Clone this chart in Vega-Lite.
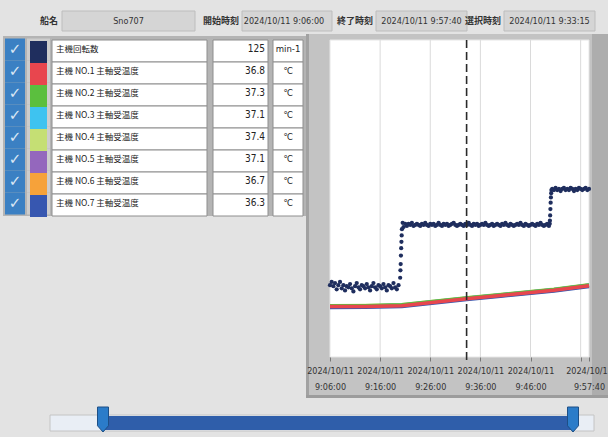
{
  "$schema": "https://vega.github.io/schema/vega-lite/v6.json",
  "width": 608,
  "height": 437,
  "autosize": "none",
  "padding": 0,
  "background": "#e3e3e3",
  "config": {"view": {"stroke": null}, "text": {"font": "Noto Sans CJK JP"}},
  "data": {"values": [{}]},
  "datasets": {
    "series": [
      {"name": "主機回転数", "value": "125", "unit": "min-1"},
      {"name": "主機 NO.1 主軸受温度", "value": "36.8", "unit": "℃"},
      {"name": "主機 NO.2 主軸受温度", "value": "37.3", "unit": "℃"},
      {"name": "主機 NO.3 主軸受温度", "value": "37.1", "unit": "℃"},
      {"name": "主機 NO.4 主軸受温度", "value": "37.4", "unit": "℃"},
      {"name": "主機 NO.5 主軸受温度", "value": "37.1", "unit": "℃"},
      {"name": "主機 NO.6 主軸受温度", "value": "36.7", "unit": "℃"},
      {"name": "主機 NO.7 主軸受温度", "value": "36.3", "unit": "℃"}
    ],
    "ticks": [
      {"t": "2024-10-11T09:16:00"},
      {"t": "2024-10-11T09:26:00"},
      {"t": "2024-10-11T09:36:00"},
      {"t": "2024-10-11T09:46:00"},
      {"t": "2024-10-11T09:56:00"}
    ],
    "temps": [
      {"t": "2024-10-11T09:06:00", "s": "主機 NO.4 主軸受温度", "v": 32.4},
      {"t": "2024-10-11T09:13:00", "s": "主機 NO.4 主軸受温度", "v": 32.5},
      {"t": "2024-10-11T09:20:20", "s": "主機 NO.4 主軸受温度", "v": 33.0},
      {"t": "2024-10-11T09:33:15", "s": "主機 NO.4 主軸受温度", "v": 37.4},
      {"t": "2024-10-11T09:40:00", "s": "主機 NO.4 主軸受温度", "v": 39.4},
      {"t": "2024-10-11T09:50:40", "s": "主機 NO.4 主軸受温度", "v": 42.7},
      {"t": "2024-10-11T09:57:40", "s": "主機 NO.4 主軸受温度", "v": 45.6},
      {"t": "2024-10-11T09:06:00", "s": "主機 NO.3 主軸受温度", "v": 32.1},
      {"t": "2024-10-11T09:13:00", "s": "主機 NO.3 主軸受温度", "v": 32.2},
      {"t": "2024-10-11T09:20:20", "s": "主機 NO.3 主軸受温度", "v": 32.7},
      {"t": "2024-10-11T09:33:15", "s": "主機 NO.3 主軸受温度", "v": 37.1},
      {"t": "2024-10-11T09:40:00", "s": "主機 NO.3 主軸受温度", "v": 39.1},
      {"t": "2024-10-11T09:50:40", "s": "主機 NO.3 主軸受温度", "v": 42.4},
      {"t": "2024-10-11T09:57:40", "s": "主機 NO.3 主軸受温度", "v": 45.3},
      {"t": "2024-10-11T09:06:00", "s": "主機 NO.6 主軸受温度", "v": 31.7},
      {"t": "2024-10-11T09:13:00", "s": "主機 NO.6 主軸受温度", "v": 31.8},
      {"t": "2024-10-11T09:20:20", "s": "主機 NO.6 主軸受温度", "v": 32.3},
      {"t": "2024-10-11T09:33:15", "s": "主機 NO.6 主軸受温度", "v": 36.7},
      {"t": "2024-10-11T09:40:00", "s": "主機 NO.6 主軸受温度", "v": 38.7},
      {"t": "2024-10-11T09:50:40", "s": "主機 NO.6 主軸受温度", "v": 42.0},
      {"t": "2024-10-11T09:57:40", "s": "主機 NO.6 主軸受温度", "v": 44.9},
      {"t": "2024-10-11T09:06:00", "s": "主機 NO.7 主軸受温度", "v": 31.3},
      {"t": "2024-10-11T09:13:00", "s": "主機 NO.7 主軸受温度", "v": 31.4},
      {"t": "2024-10-11T09:20:20", "s": "主機 NO.7 主軸受温度", "v": 31.9},
      {"t": "2024-10-11T09:33:15", "s": "主機 NO.7 主軸受温度", "v": 36.3},
      {"t": "2024-10-11T09:40:00", "s": "主機 NO.7 主軸受温度", "v": 38.3},
      {"t": "2024-10-11T09:50:40", "s": "主機 NO.7 主軸受温度", "v": 41.6},
      {"t": "2024-10-11T09:57:40", "s": "主機 NO.7 主軸受温度", "v": 44.5},
      {"t": "2024-10-11T09:06:00", "s": "主機 NO.5 主軸受温度", "v": 32.1},
      {"t": "2024-10-11T09:13:00", "s": "主機 NO.5 主軸受温度", "v": 32.2},
      {"t": "2024-10-11T09:20:20", "s": "主機 NO.5 主軸受温度", "v": 32.7},
      {"t": "2024-10-11T09:33:15", "s": "主機 NO.5 主軸受温度", "v": 37.1},
      {"t": "2024-10-11T09:40:00", "s": "主機 NO.5 主軸受温度", "v": 39.1},
      {"t": "2024-10-11T09:50:40", "s": "主機 NO.5 主軸受温度", "v": 42.4},
      {"t": "2024-10-11T09:57:40", "s": "主機 NO.5 主軸受温度", "v": 45.3},
      {"t": "2024-10-11T09:06:00", "s": "主機 NO.2 主軸受温度", "v": 32.3},
      {"t": "2024-10-11T09:13:00", "s": "主機 NO.2 主軸受温度", "v": 32.4},
      {"t": "2024-10-11T09:20:20", "s": "主機 NO.2 主軸受温度", "v": 32.9},
      {"t": "2024-10-11T09:33:15", "s": "主機 NO.2 主軸受温度", "v": 37.3},
      {"t": "2024-10-11T09:40:00", "s": "主機 NO.2 主軸受温度", "v": 39.3},
      {"t": "2024-10-11T09:50:40", "s": "主機 NO.2 主軸受温度", "v": 42.6},
      {"t": "2024-10-11T09:57:40", "s": "主機 NO.2 主軸受温度", "v": 45.5},
      {"t": "2024-10-11T09:06:00", "s": "主機 NO.1 主軸受温度", "v": 31.8},
      {"t": "2024-10-11T09:13:00", "s": "主機 NO.1 主軸受温度", "v": 31.9},
      {"t": "2024-10-11T09:20:20", "s": "主機 NO.1 主軸受温度", "v": 32.4},
      {"t": "2024-10-11T09:33:15", "s": "主機 NO.1 主軸受温度", "v": 36.8},
      {"t": "2024-10-11T09:40:00", "s": "主機 NO.1 主軸受温度", "v": 38.8},
      {"t": "2024-10-11T09:50:40", "s": "主機 NO.1 主軸受温度", "v": 42.1},
      {"t": "2024-10-11T09:57:40", "s": "主機 NO.1 主軸受温度", "v": 45.0}
    ],
    "rpm": [
      {"t": "2024-10-11T09:06:00", "v": 68}, {"t": "2024-10-11T09:06:20", "v": 71}, {"t": "2024-10-11T09:06:40", "v": 67},
      {"t": "2024-10-11T09:07:00", "v": 70}, {"t": "2024-10-11T09:07:20", "v": 64}, {"t": "2024-10-11T09:07:40", "v": 68},
      {"t": "2024-10-11T09:08:00", "v": 71}, {"t": "2024-10-11T09:08:20", "v": 65}, {"t": "2024-10-11T09:08:40", "v": 68},
      {"t": "2024-10-11T09:09:00", "v": 63}, {"t": "2024-10-11T09:09:20", "v": 67}, {"t": "2024-10-11T09:09:40", "v": 66},
      {"t": "2024-10-11T09:10:00", "v": 69}, {"t": "2024-10-11T09:10:20", "v": 65}, {"t": "2024-10-11T09:10:40", "v": 62},
      {"t": "2024-10-11T09:11:00", "v": 67}, {"t": "2024-10-11T09:11:20", "v": 70}, {"t": "2024-10-11T09:11:40", "v": 66},
      {"t": "2024-10-11T09:12:00", "v": 64}, {"t": "2024-10-11T09:12:20", "v": 68}, {"t": "2024-10-11T09:12:40", "v": 67},
      {"t": "2024-10-11T09:13:00", "v": 65}, {"t": "2024-10-11T09:13:20", "v": 69}, {"t": "2024-10-11T09:13:40", "v": 66},
      {"t": "2024-10-11T09:14:00", "v": 63}, {"t": "2024-10-11T09:14:20", "v": 67}, {"t": "2024-10-11T09:14:40", "v": 70},
      {"t": "2024-10-11T09:15:00", "v": 66}, {"t": "2024-10-11T09:15:20", "v": 64}, {"t": "2024-10-11T09:15:40", "v": 68},
      {"t": "2024-10-11T09:16:00", "v": 67}, {"t": "2024-10-11T09:16:20", "v": 65}, {"t": "2024-10-11T09:16:40", "v": 69},
      {"t": "2024-10-11T09:17:00", "v": 66}, {"t": "2024-10-11T09:17:20", "v": 63}, {"t": "2024-10-11T09:17:40", "v": 68},
      {"t": "2024-10-11T09:18:00", "v": 67}, {"t": "2024-10-11T09:18:20", "v": 65}, {"t": "2024-10-11T09:18:40", "v": 70},
      {"t": "2024-10-11T09:19:00", "v": 66}, {"t": "2024-10-11T09:19:20", "v": 64}, {"t": "2024-10-11T09:19:40", "v": 68},
      {"t": "2024-10-11T09:20:00", "v": 75}, {"t": "2024-10-11T09:20:03", "v": 82}, {"t": "2024-10-11T09:20:06", "v": 88},
      {"t": "2024-10-11T09:20:09", "v": 96}, {"t": "2024-10-11T09:20:12", "v": 103}, {"t": "2024-10-11T09:20:15", "v": 109},
      {"t": "2024-10-11T09:20:18", "v": 115}, {"t": "2024-10-11T09:20:21", "v": 121},
      {"t": "2024-10-11T09:20:30", "v": 127}, {"t": "2024-10-11T09:20:40", "v": 123},
      {"t": "2024-10-11T09:21:00", "v": 126}, {"t": "2024-10-11T09:21:20", "v": 124}, {"t": "2024-10-11T09:21:40", "v": 126},
      {"t": "2024-10-11T09:22:00", "v": 125}, {"t": "2024-10-11T09:22:20", "v": 127}, {"t": "2024-10-11T09:22:40", "v": 124},
      {"t": "2024-10-11T09:23:00", "v": 125}, {"t": "2024-10-11T09:23:20", "v": 126}, {"t": "2024-10-11T09:23:40", "v": 125},
      {"t": "2024-10-11T09:24:00", "v": 124}, {"t": "2024-10-11T09:24:20", "v": 126}, {"t": "2024-10-11T09:24:40", "v": 125},
      {"t": "2024-10-11T09:25:00", "v": 127}, {"t": "2024-10-11T09:25:20", "v": 125}, {"t": "2024-10-11T09:25:40", "v": 124},
      {"t": "2024-10-11T09:26:00", "v": 126}, {"t": "2024-10-11T09:26:20", "v": 125}, {"t": "2024-10-11T09:26:40", "v": 126},
      {"t": "2024-10-11T09:27:00", "v": 124}, {"t": "2024-10-11T09:27:20", "v": 125}, {"t": "2024-10-11T09:27:40", "v": 127},
      {"t": "2024-10-11T09:28:00", "v": 125}, {"t": "2024-10-11T09:28:20", "v": 124}, {"t": "2024-10-11T09:28:40", "v": 126},
      {"t": "2024-10-11T09:29:00", "v": 125}, {"t": "2024-10-11T09:29:20", "v": 126}, {"t": "2024-10-11T09:29:40", "v": 124},
      {"t": "2024-10-11T09:30:00", "v": 125}, {"t": "2024-10-11T09:30:20", "v": 126}, {"t": "2024-10-11T09:30:40", "v": 127},
      {"t": "2024-10-11T09:31:00", "v": 125}, {"t": "2024-10-11T09:31:20", "v": 124}, {"t": "2024-10-11T09:31:40", "v": 125},
      {"t": "2024-10-11T09:32:00", "v": 126}, {"t": "2024-10-11T09:32:20", "v": 125}, {"t": "2024-10-11T09:32:40", "v": 124},
      {"t": "2024-10-11T09:33:00", "v": 126}, {"t": "2024-10-11T09:33:15", "v": 125}, {"t": "2024-10-11T09:33:20", "v": 125},
      {"t": "2024-10-11T09:33:40", "v": 127}, {"t": "2024-10-11T09:34:00", "v": 125}, {"t": "2024-10-11T09:34:20", "v": 124},
      {"t": "2024-10-11T09:34:40", "v": 126}, {"t": "2024-10-11T09:35:00", "v": 125}, {"t": "2024-10-11T09:35:20", "v": 126},
      {"t": "2024-10-11T09:35:40", "v": 124}, {"t": "2024-10-11T09:36:00", "v": 125}, {"t": "2024-10-11T09:36:20", "v": 126},
      {"t": "2024-10-11T09:36:40", "v": 125}, {"t": "2024-10-11T09:37:00", "v": 127}, {"t": "2024-10-11T09:37:20", "v": 125},
      {"t": "2024-10-11T09:37:40", "v": 124}, {"t": "2024-10-11T09:38:00", "v": 125}, {"t": "2024-10-11T09:38:20", "v": 126},
      {"t": "2024-10-11T09:38:40", "v": 124}, {"t": "2024-10-11T09:39:00", "v": 125}, {"t": "2024-10-11T09:39:20", "v": 126},
      {"t": "2024-10-11T09:39:40", "v": 125}, {"t": "2024-10-11T09:40:00", "v": 124}, {"t": "2024-10-11T09:40:20", "v": 126},
      {"t": "2024-10-11T09:40:40", "v": 125}, {"t": "2024-10-11T09:41:00", "v": 127}, {"t": "2024-10-11T09:41:20", "v": 125},
      {"t": "2024-10-11T09:41:40", "v": 124}, {"t": "2024-10-11T09:42:00", "v": 126}, {"t": "2024-10-11T09:42:20", "v": 125},
      {"t": "2024-10-11T09:42:40", "v": 124}, {"t": "2024-10-11T09:43:00", "v": 125}, {"t": "2024-10-11T09:43:20", "v": 126},
      {"t": "2024-10-11T09:43:40", "v": 125}, {"t": "2024-10-11T09:44:00", "v": 127}, {"t": "2024-10-11T09:44:20", "v": 125},
      {"t": "2024-10-11T09:44:40", "v": 124}, {"t": "2024-10-11T09:45:00", "v": 126}, {"t": "2024-10-11T09:45:20", "v": 125},
      {"t": "2024-10-11T09:45:40", "v": 124}, {"t": "2024-10-11T09:46:00", "v": 125}, {"t": "2024-10-11T09:46:20", "v": 126},
      {"t": "2024-10-11T09:46:40", "v": 125}, {"t": "2024-10-11T09:47:00", "v": 124}, {"t": "2024-10-11T09:47:20", "v": 126},
      {"t": "2024-10-11T09:47:40", "v": 125}, {"t": "2024-10-11T09:48:00", "v": 127}, {"t": "2024-10-11T09:48:20", "v": 125},
      {"t": "2024-10-11T09:48:40", "v": 124}, {"t": "2024-10-11T09:49:00", "v": 125}, {"t": "2024-10-11T09:49:20", "v": 126},
      {"t": "2024-10-11T09:49:40", "v": 124}, {"t": "2024-10-11T09:49:50", "v": 126},
      {"t": "2024-10-11T09:49:52", "v": 129}, {"t": "2024-10-11T09:49:55", "v": 134}, {"t": "2024-10-11T09:49:58", "v": 140},
      {"t": "2024-10-11T09:50:01", "v": 146}, {"t": "2024-10-11T09:50:04", "v": 151}, {"t": "2024-10-11T09:50:07", "v": 155},
      {"t": "2024-10-11T09:50:10", "v": 158}, {"t": "2024-10-11T09:50:20", "v": 159}, {"t": "2024-10-11T09:50:40", "v": 158},
      {"t": "2024-10-11T09:51:00", "v": 160}, {"t": "2024-10-11T09:51:20", "v": 158}, {"t": "2024-10-11T09:51:40", "v": 159},
      {"t": "2024-10-11T09:52:00", "v": 157}, {"t": "2024-10-11T09:52:20", "v": 159}, {"t": "2024-10-11T09:52:40", "v": 160},
      {"t": "2024-10-11T09:53:00", "v": 158}, {"t": "2024-10-11T09:53:20", "v": 159}, {"t": "2024-10-11T09:53:40", "v": 158},
      {"t": "2024-10-11T09:54:00", "v": 160}, {"t": "2024-10-11T09:54:20", "v": 159}, {"t": "2024-10-11T09:54:40", "v": 157},
      {"t": "2024-10-11T09:55:00", "v": 159}, {"t": "2024-10-11T09:55:20", "v": 158}, {"t": "2024-10-11T09:55:40", "v": 160},
      {"t": "2024-10-11T09:56:00", "v": 159}, {"t": "2024-10-11T09:56:20", "v": 158}, {"t": "2024-10-11T09:56:40", "v": 159},
      {"t": "2024-10-11T09:57:00", "v": 160}, {"t": "2024-10-11T09:57:20", "v": 158}, {"t": "2024-10-11T09:57:40", "v": 159}
    ]
  },
  "layer": [
    {
      "data": {"values": [{"label": "船名", "text": "Sno707"}]},
      "layer": [
        {"mark": {"type": "rect", "x": 62, "x2": 195, "y": 11, "y2": 31, "fill": "#d5d5d5", "stroke": "#bdbdbd"}, "encoding": {}},
        {"mark": {"type": "text", "x": 58, "y": 21, "align": "right", "baseline": "middle", "fontSize": 9, "fontWeight": "bold", "color": "#333333"}, "encoding": {"text": {"field": "label"}}},
        {"mark": {"type": "text", "x": 128.5, "y": 21, "align": "center", "baseline": "middle", "font": "Liberation Sans Narrow, DejaVu Sans Condensed, Liberation Sans", "fontSize": 9, "color": "#333333"}, "encoding": {"text": {"field": "text"}}}
      ]
    },
    {
      "data": {"values": [{"label": "開始時刻", "text": "2024/10/11 9:06:00"}]},
      "layer": [
        {"mark": {"type": "rect", "x": 242, "x2": 332, "y": 11, "y2": 31, "fill": "#d5d5d5", "stroke": "#bdbdbd"}, "encoding": {}},
        {"mark": {"type": "text", "x": 239, "y": 21, "align": "right", "baseline": "middle", "fontSize": 9, "fontWeight": "bold", "color": "#333333"}, "encoding": {"text": {"field": "label"}}},
        {"mark": {"type": "text", "x": 284, "y": 21, "align": "center", "baseline": "middle", "font": "Liberation Sans Narrow, DejaVu Sans Condensed, Liberation Sans", "fontSize": 9, "color": "#333333"}, "encoding": {"text": {"field": "text"}}}
      ]
    },
    {
      "data": {"values": [{"label": "終了時刻", "text": "2024/10/11 9:57:40"}]},
      "layer": [
        {"mark": {"type": "rect", "x": 376, "x2": 467, "y": 11, "y2": 31, "fill": "#d5d5d5", "stroke": "#bdbdbd"}, "encoding": {}},
        {"mark": {"type": "text", "x": 373, "y": 21, "align": "right", "baseline": "middle", "fontSize": 9, "fontWeight": "bold", "color": "#333333"}, "encoding": {"text": {"field": "label"}}},
        {"mark": {"type": "text", "x": 421.5, "y": 21, "align": "center", "baseline": "middle", "font": "Liberation Sans Narrow, DejaVu Sans Condensed, Liberation Sans", "fontSize": 9, "color": "#333333"}, "encoding": {"text": {"field": "text"}}}
      ]
    },
    {
      "data": {"values": [{"label": "選択時刻", "text": "2024/10/11 9:33:15"}]},
      "layer": [
        {"mark": {"type": "rect", "x": 504, "x2": 595, "y": 11, "y2": 31, "fill": "#d5d5d5", "stroke": "#bdbdbd"}, "encoding": {}},
        {"mark": {"type": "text", "x": 501, "y": 21, "align": "right", "baseline": "middle", "fontSize": 9, "fontWeight": "bold", "color": "#333333"}, "encoding": {"text": {"field": "label"}}},
        {"mark": {"type": "text", "x": 549.5, "y": 21, "align": "center", "baseline": "middle", "font": "Liberation Sans Narrow, DejaVu Sans Condensed, Liberation Sans", "fontSize": 9, "color": "#333333"}, "encoding": {"text": {"field": "text"}}}
      ]
    },
    {"mark": {"type": "rect", "x": 3, "x2": 306, "y": 36, "y2": 216, "fill": "#b4b4b4"}, "encoding": {}},
    {
      "data": {"name": "series"},
      "encoding": {
        "y": {"field": "name", "type": "nominal", "sort": null, "axis": null, "scale": {"range": [38, 214], "paddingInner": 0, "paddingOuter": 0}}
      },
      "layer": [
        {"mark": {"type": "rect", "x": 5, "x2": 25, "yOffset": 0.5, "y2Offset": -0.5, "fill": "#3b80c3"}},
        {"mark": {"type": "text", "x": 15, "text": "✓", "font": "DejaVu Sans", "fontSize": 15, "color": "#dce8f5", "align": "center", "baseline": "middle"}},
        {"mark": {"type": "rect", "x": 27, "x2": 50, "yOffset": 0.5, "y2Offset": -0.5, "fill": "#cdcdcd"}},
        {
          "mark": {"type": "rect", "x": 30, "x2": 47, "yOffset": 3, "y2Offset": -2},
          "encoding": {
            "color": {
              "field": "name", "type": "nominal", "legend": null,
              "scale": {
                "domain": ["主機回転数", "主機 NO.1 主軸受温度", "主機 NO.2 主軸受温度", "主機 NO.3 主軸受温度", "主機 NO.4 主軸受温度", "主機 NO.5 主軸受温度", "主機 NO.6 主軸受温度", "主機 NO.7 主軸受温度"],
                "range": ["#1f2e5e", "#e8464e", "#5bbf3e", "#3ec3f0", "#c5df74", "#9467bd", "#f6a23a", "#3757b0"]
              }
            }
          }
        },
        {"mark": {"type": "rect", "x": 52, "x2": 207, "yOffset": 2, "y2Offset": -2, "fill": "#ffffff", "stroke": "#8e8e8e"}},
        {"mark": {"type": "text", "x": 56, "align": "left", "baseline": "middle", "fontSize": 8.5, "color": "#222222"}, "encoding": {"text": {"field": "name"}}},
        {"mark": {"type": "rect", "x": 213, "x2": 268, "yOffset": 2, "y2Offset": -2, "fill": "#ffffff", "stroke": "#8e8e8e"}},
        {"mark": {"type": "text", "x": 265, "align": "right", "baseline": "middle", "font": "Liberation Sans Narrow, DejaVu Sans Condensed, Liberation Sans", "fontSize": 10, "color": "#222222"}, "encoding": {"text": {"field": "value"}}},
        {"mark": {"type": "rect", "x": 273, "x2": 303, "yOffset": 2, "y2Offset": -2, "fill": "#ffffff", "stroke": "#8e8e8e"}},
        {"mark": {"type": "text", "x": 288, "align": "center", "baseline": "middle", "font": "Liberation Sans Narrow, DejaVu Sans Condensed, Liberation Sans", "fontSize": 9.5, "color": "#222222"}, "encoding": {"text": {"field": "unit"}}}
      ]
    },
    {"mark": {"type": "rect", "x": 306, "x2": 608, "y": 34, "y2": 398, "fill": "#c3c3c3"}, "encoding": {}},
    {"mark": {"type": "rect", "x": 306, "x2": 309, "y": 34, "y2": 398, "fill": "#a2a2a2"}, "encoding": {}},
    {"mark": {"type": "rect", "x": 592, "x2": 608, "y": 34, "y2": 398, "fill": "#adadad"}, "encoding": {}},
    {"mark": {"type": "rect", "x": 306, "x2": 608, "y": 395, "y2": 398, "fill": "#9c9c9c"}, "encoding": {}},
    {"mark": {"type": "rect", "x": 330, "x2": 589, "y": 40, "y2": 357, "fill": "#ffffff", "stroke": "#e6e6e6"}, "encoding": {}},
    {
      "encoding": {
        "x": {
          "field": "t", "type": "temporal",
          "scale": {
            "domain": [
              {"year": 2024, "month": 10, "date": 11, "hours": 9, "minutes": 6, "seconds": 0},
              {"year": 2024, "month": 10, "date": 11, "hours": 9, "minutes": 57, "seconds": 40}
            ],
            "range": [330, 589], "nice": false
          },
          "axis": {
            "orient": "bottom", "offset": -80, "zindex": 1, "title": null, "grid": false, "domain": false,
            "values": [
              {"year": 2024, "month": 10, "date": 11, "hours": 9, "minutes": 6},
              {"year": 2024, "month": 10, "date": 11, "hours": 9, "minutes": 16},
              {"year": 2024, "month": 10, "date": 11, "hours": 9, "minutes": 26},
              {"year": 2024, "month": 10, "date": 11, "hours": 9, "minutes": 36},
              {"year": 2024, "month": 10, "date": 11, "hours": 9, "minutes": 46},
              {"year": 2024, "month": 10, "date": 11, "hours": 9, "minutes": 56},
              {"year": 2024, "month": 10, "date": 11, "hours": 9, "minutes": 57, "seconds": 40}
            ],
            "labelExpr": "minutes(datum.value) == 56 ? '' : [timeFormat(datum.value, '%Y/%m/%d'), timeFormat(datum.value, '%-H:%M:%S')]",
            "tickColor": "#777777", "tickSize": 4, "labelPadding": 5,
            "labelFont": "Liberation Sans Narrow, DejaVu Sans Condensed, Liberation Sans", "labelFontSize": 9, "labelColor": "#333333", "labelLineHeight": 16,
            "labelOverlap": false, "labelBound": false, "labelFlush": false
          }
        }
      },
      "layer": [
        {
          "data": {"name": "ticks"},
          "mark": {"type": "rule", "color": "#dadada", "strokeWidth": 1},
          "encoding": {"y": {"value": 40}, "y2": {"value": 357}}
        },
        {
          "data": {"name": "temps"},
          "transform": [{"filter": "datum.s != '主機 NO.1 主軸受温度'"}],
          "mark": {"type": "line", "strokeWidth": 3.5},
          "encoding": {
            "y": {"field": "v", "type": "quantitative", "axis": null, "scale": {"domain": [0, 200], "range": [357, 40], "nice": false, "zero": false}},
            "color": {
              "field": "s", "type": "nominal", "legend": null,
              "scale": {
                "domain": ["主機 NO.1 主軸受温度", "主機 NO.2 主軸受温度", "主機 NO.3 主軸受温度", "主機 NO.4 主軸受温度", "主機 NO.5 主軸受温度", "主機 NO.6 主軸受温度", "主機 NO.7 主軸受温度"],
                "range": ["#e8464e", "#5bbf3e", "#3ec3f0", "#c5df74", "#9467bd", "#f6a23a", "#3757b0"]
              }
            }
          }
        },
        {
          "data": {"name": "temps"},
          "transform": [{"filter": "datum.s == '主機 NO.1 主軸受温度'"}],
          "mark": {"type": "line", "strokeWidth": 3.5, "color": "#e8464e"},
          "encoding": {
            "y": {"field": "v", "type": "quantitative", "axis": null, "scale": {"domain": [0, 200], "range": [357, 40], "nice": false, "zero": false}}
          }
        },
        {
          "data": {"name": "rpm"},
          "mark": {"type": "circle", "size": 18, "opacity": 1, "color": "#1f2e5e"},
          "encoding": {
            "y": {"field": "v", "type": "quantitative", "axis": null, "scale": {"domain": [0, 300], "range": [357, 40], "nice": false}}
          }
        },
        {
          "data": {"values": [{"t": "2024-10-11T09:33:15"}]},
          "mark": {"type": "rule", "color": "#2a2a2a", "strokeWidth": 1.6, "strokeDash": [8, 4]},
          "encoding": {"y": {"value": 40}, "y2": {"value": 362}}
        }
      ],
      "resolve": {"scale": {"y": "independent", "color": "independent"}}
    },
    {"mark": {"type": "rect", "x": 50, "x2": 594, "y": 415, "y2": 431, "fill": "#e9eef5", "stroke": "#c4c4c4"}, "encoding": {}},
    {"mark": {"type": "rect", "x": 103, "x2": 573, "y": 416, "y2": 430, "fill": "#2f5eaa"}, "encoding": {}},
    {"mark": {"type": "point", "shape": "M-0.44,-1L0.44,-1L0.44,0.5L0,1L-0.44,0.5Z", "x": 103, "y": 419.5, "size": 625, "filled": true, "fill": "#2b7cc9", "stroke": "#1d4f86", "strokeWidth": 1, "opacity": 1}, "encoding": {}},
    {"mark": {"type": "point", "shape": "M-0.44,-1L0.44,-1L0.44,0.5L0,1L-0.44,0.5Z", "x": 573, "y": 419.5, "size": 625, "filled": true, "fill": "#2b7cc9", "stroke": "#1d4f86", "strokeWidth": 1, "opacity": 1}, "encoding": {}}
  ],
  "resolve": {"scale": {"x": "independent", "y": "independent", "color": "independent"}}
}
